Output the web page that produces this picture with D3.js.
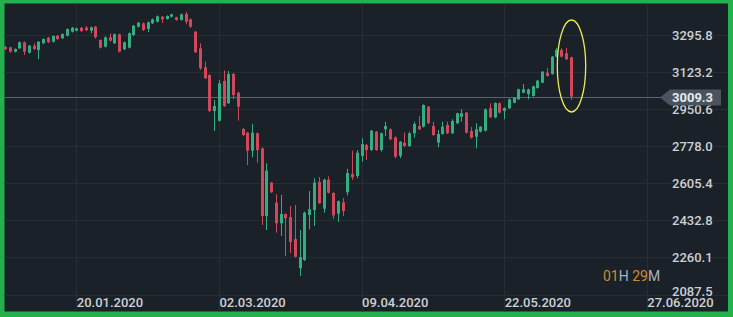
<!DOCTYPE html>
<html lang="en">
<head>
    <meta charset="UTF-8">
    <title>US500 daily candles</title>
    <style>
        body { margin: 0; background: #22b14c; }
        svg { display: block; }
        .grid line { stroke: #262e35; stroke-width: 1px; }
        .axis text { font: 500 13px Roboto, sans-serif; fill: #ccd0d4; }
        .axis path, .axis line { display: none; }
        .wick { stroke-width: 1px; }
    </style>
</head>
<body>
<svg width="733" height="317"></svg>
<script src="https://cdn.jsdelivr.net/npm/d3@7/dist/d3.min.js"></script>
<script>
  // candle data, one entry per bar
  var open = [3240.0,3238.6,3218.1,3233.9,3261.9,3213.4,3246.0,3226.0,3257.2,3283.3,
    3264.6,3292.6,3280.5,3292.6,3311.2,3315.9,3329.8,3329.8,3315.9,3334.5,
    3272.6,3241.4,3285.1,3257.2,3299.1,3229.3,3236.7,3295.8,3334.5,3350.3,
    3323.8,3350.3,3357.8,3381.0,3370.3,3381.0,3378.3,3365.7,3393.6,3368.9,
    3311.2,3233.9,3145.5,3109.6,2942.0,2896.8,3081.7,2977.8,3114.3,3027.2,
    2858.2,2840.9,2757.1,2838.2,2768.3,2453.1,2608.2,2515.0,2419.1,2462.4,
    2448.4,2346.0,2209.6,2248.2,2457.8,2481.0,2611.4,2487.1,2622.1,2560.2,
    2463.8,2517.3,2563.9,2648.7,2639.3,2732.5,2783.7,2760.4,2845.6,2760.4,
    2856.8,2856.8,2819.5,2732.5,2794.4,2779.0,2838.2,2872.1,2868.9,2962.0,
    2872.1,2794.4,2834.9,2876.8,2838.2,2884.7,2915.4,2934.1,2848.9,2822.3,
    2845.6,2850.3,2954.6,2911.7,2977.8,2942.0,2954.6,2980.6,2996.5,3027.2,
    3021.1,3011.8,3049.1,3073.7,3120.3,3114.3,3194.8,3226.0,3210.6,3192.0];

  var high = [3244.6,3240.0,3233.0,3265.6,3265.6,3249.3,3257.2,3267.9,3279.5,3286.5,
    3293.5,3295.8,3302.8,3326.1,3333.1,3329.8,3333.1,3337.7,3334.5,3337.7,
    3274.9,3288.9,3302.8,3302.8,3301.9,3265.6,3307.5,3342.4,3356.4,3354.0,
    3358.7,3372.7,3386.6,3384.3,3387.6,3395.0,3381.0,3395.9,3402.9,3372.7,
    3314.5,3257.2,3171.5,3112.9,2993.2,3086.3,3130.6,3128.2,3118.9,3031.8,
    2862.8,2844.2,2881.5,2841.9,2772.0,2698.5,2611.4,2554.1,2550.9,2464.7,
    2499.7,2504.3,2387.9,2473.1,2569.5,2628.6,2634.7,2626.8,2637.9,2563.5,
    2525.3,2536.9,2672.9,2757.1,2760.4,2814.9,2788.3,2853.5,2848.9,2841.9,
    2892.2,2860.5,2823.3,2802.3,2840.9,2845.6,2892.2,2918.7,2973.2,2965.3,
    2892.2,2853.5,2892.2,2892.2,2903.3,2934.1,2949.9,2937.3,2867.5,2884.7,
    2872.1,2953.6,2977.8,2982.5,2981.6,2959.2,2999.3,3007.2,3045.8,3067.7,
    3045.8,3059.8,3086.3,3128.2,3142.2,3198.1,3235.3,3233.9,3235.3,3194.8];

  var low = [3226.0,3213.4,3214.4,3230.7,3202.7,3209.7,3226.0,3182.7,3253.9,3258.6,
    3260.9,3272.6,3277.2,3288.9,3307.5,3313.1,3309.8,3314.5,3303.8,3279.5,
    3233.0,3237.6,3265.6,3253.9,3214.4,3226.0,3233.0,3291.2,3330.8,3314.5,
    3309.8,3347.1,3354.0,3351.7,3367.1,3378.3,3362.4,3362.4,3345.7,3328.4,
    3212.0,3132.9,3091.0,2937.3,2848.9,2893.1,2960.6,2974.6,2996.5,2896.8,
    2825.6,2690.6,2726.4,2701.3,2411.2,2387.9,2560.2,2375.3,2360.0,2266.9,
    2280.8,2259.9,2173.7,2243.6,2391.2,2406.5,2509.0,2468.5,2557.9,2439.1,
    2425.2,2453.1,2548.6,2620.7,2628.6,2705.9,2713.8,2755.7,2755.7,2752.5,
    2825.6,2807.0,2721.8,2721.8,2774.4,2774.4,2817.7,2853.5,2865.2,2881.5,
    2825.6,2773.0,2831.6,2834.9,2834.9,2881.5,2892.2,2837.2,2813.9,2768.3,
    2841.9,2846.5,2909.4,2908.0,2930.3,2903.3,2951.3,2977.8,2993.2,3024.4,
    2996.5,3008.6,3045.8,3071.0,3101.7,3111.0,3192.0,3192.0,3179.4,2993.2];

  var close = [3230.7,3218.1,3230.7,3261.9,3218.1,3246.0,3230.7,3264.6,3277.2,3261.9,
    3291.2,3277.2,3300.5,3323.8,3329.8,3327.0,3314.5,3317.7,3331.7,3285.1,
    3236.7,3285.1,3269.3,3299.1,3218.1,3261.9,3303.8,3339.1,3353.1,3319.1,
    3355.0,3368.9,3382.9,3368.9,3384.3,3392.2,3365.7,3392.2,3357.8,3334.5,
    3215.3,3140.8,3094.2,2942.0,2965.3,3071.0,2965.3,3114.3,3016.5,2962.0,
    2830.2,2757.1,2840.9,2760.4,2453.1,2664.0,2563.5,2419.1,2462.4,2442.4,
    2332.0,2263.6,2260.8,2468.5,2484.3,2608.2,2512.2,2622.1,2561.6,2455.4,
    2522.0,2475.5,2653.3,2633.3,2747.8,2788.3,2760.4,2850.3,2760.4,2838.2,
    2872.1,2810.2,2729.2,2799.0,2779.0,2838.2,2881.5,2856.8,2969.9,2884.7,
    2830.2,2834.9,2868.9,2838.2,2895.4,2931.3,2931.3,2840.9,2817.7,2856.8,
    2868.9,2949.9,2912.7,2979.2,2934.1,2956.0,2996.5,3003.9,3043.0,3043.0,
    3043.0,3057.0,3083.1,3125.0,3104.9,3194.8,3226.0,3194.8,3182.7,3009.3];

  // axis labels
  var yTicks = [3295.8, 3123.2, 2950.6, 2778.0, 2605.4, 2432.8, 2260.1, 2087.5];
  var dateBars = [15, 45, 75, 105, 135];
  var dateLabels = ["20.01.2020", "02.03.2020", "09.04.2020", "22.05.2020", "27.06.2020"];
  var lastPrice = 3009.3;
  var timerParts = [["01", "num"], ["H ", "unit"], ["29", "num"], ["M", "unit"]];

  var svg = d3.select("svg"),
    width = +svg.attr("width"),
    height = +svg.attr("height");

  // green frame + dark panel
  svg.append("rect").attr("width", width).attr("height", height).attr("fill", "#22b14c");
  svg.append("rect")
    .attr("x", 4.5).attr("y", 3.5)
    .attr("width", 723.5).attr("height", 308)
    .attr("fill", "#1b2128");

  var x = d3.scaleLinear().domain([0, 119]).range([5, 570.7]);
  var y = d3.scaleLinear().domain([2087.5, 3295.8]).range([294.5, 35]);

  // grid
  var grid = svg.append("g").attr("class", "grid");
  grid.selectAll(".h").data(yTicks).enter().append("line")
    .attr("x1", 4.5).attr("x2", 728)
    .attr("y1", function (d) { return Math.round(y(d)) + 0.5; })
    .attr("y2", function (d) { return Math.round(y(d)) + 0.5; });
  grid.selectAll(".v").data(dateBars).enter().append("line")
    .attr("y1", 3.5).attr("y2", 311.5)
    .attr("x1", function (d) { return Math.round(x(d)) + 0.5; })
    .attr("x2", function (d) { return Math.round(x(d)) + 0.5; });

  // last price line
  var py = Math.round(y(lastPrice)) + 0.5;
  svg.append("line")
    .attr("x1", 4.5).attr("x2", 661)
    .attr("y1", py).attr("y2", py)
    .attr("stroke", "#59636c").attr("stroke-width", 1);

  // candles
  var bars = d3.range(open.length);
  var up = function (i) { return close[i] >= open[i]; };
  var col = function (i) { return up(i) ? "#34ae80" : "#d3475b"; };

  var candles = svg.append("g");
  candles.selectAll(".wick").data(bars).enter().append("line")
    .attr("class", "wick")
    .attr("x1", function (i) { return Math.round(x(i)) + 0.5; })
    .attr("x2", function (i) { return Math.round(x(i)) + 0.5; })
    .attr("y1", function (i) { return y(high[i]); })
    .attr("y2", function (i) { return y(low[i]); })
    .attr("stroke", col);
  candles.selectAll(".body").data(bars).enter().append("rect")
    .attr("x", function (i) { return Math.round(x(i)) - 1; })
    .attr("width", 3)
    .attr("y", function (i) { return y(Math.max(open[i], close[i])); })
    .attr("height", function (i) { return Math.max(1, Math.abs(y(open[i]) - y(close[i]))); })
    .attr("fill", col);

  // y axis labels
  var yAxis = svg.append("g")
    .attr("class", "axis")
    .attr("transform", "translate(672,0)")
    .call(d3.axisRight(y).tickValues(yTicks).tickSize(0).tickPadding(0)
      .tickFormat(d3.format(".1f")));
  yAxis.selectAll("text")
    .attr("dy", function (d) { return d === 2087.5 ? "0.05em" : "0.32em"; });

  // date labels
  svg.append("g")
    .attr("class", "axis")
    .attr("transform", "translate(0,298)")
    .call(d3.axisBottom(x).tickValues(dateBars).tickSize(0).tickPadding(0)
      .tickFormat(function (d, i) { return dateLabels[i]; }))
    .selectAll("text")
    .attr("text-anchor", "start")
    .attr("dy", "0.71em");

  // current price tag
  svg.append("polygon")
    .attr("points", [[660, py], [670, py - 8], [721, py - 8], [721, py + 8], [670, py + 8]].join(" "))
    .attr("fill", "#4a545e");
  svg.append("text")
    .attr("x", 672).attr("y", py).attr("dy", "0.35em")
    .style("font", "bold 13px Roboto, sans-serif")
    .attr("fill", "#e6e9ec")
    .text(lastPrice.toFixed(1));

  // highlight ellipse
  svg.append("ellipse")
    .attr("cx", x(119) + 0.8).attr("cy", 66)
    .attr("rx", 14.2).attr("ry", 46)
    .attr("fill", "none")
    .attr("stroke", "#ecea5a").attr("stroke-width", 1.3);

  // countdown
  var timer = svg.append("text")
    .attr("x", 603).attr("y", 276).attr("dy", "0.35em")
    .style("font", "14px Roboto, sans-serif");
  timer.selectAll("tspan").data(timerParts).enter().append("tspan")
    .attr("fill", function (d) { return d[1] === "num" ? "#d08b2e" : "#a9b1b8"; })
    .text(function (d) { return d[0]; });
</script>
</body>
</html>
